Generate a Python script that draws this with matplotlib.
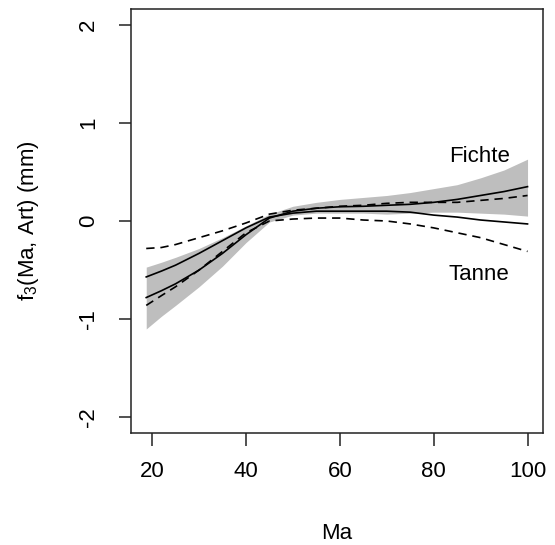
import numpy as np
import matplotlib
matplotlib.use("Agg")
from matplotlib import pyplot as plt

plt.rcParams["font.family"] = ["Liberation Sans", "DejaVu Sans"]
plt.rcParams["mathtext.fontset"] = "custom"
plt.rcParams["mathtext.rm"] = "Liberation Sans"
plt.rcParams["axes.unicode_minus"] = False

# Ma values (x grid)
ma = [18.75, 22, 25, 30, 35, 40, 45, 50, 55, 60, 65, 70, 75, 80, 85, 90, 95, 100]

# Fichte: fit + grey confidence band
fichte_fit = [-0.78, -0.71, -0.64, -0.50, -0.33, -0.14, 0.03, 0.10, 0.13, 0.145,
              0.15, 0.16, 0.17, 0.19, 0.22, 0.26, 0.30, 0.35]
fichte_upper = [-0.47, -0.42, -0.37, -0.28, -0.17, -0.05, 0.07, 0.15, 0.19, 0.22,
                0.24, 0.26, 0.29, 0.33, 0.37, 0.44, 0.52, 0.63]
fichte_lower = [-1.10, -0.97, -0.86, -0.67, -0.46, -0.22, -0.01, 0.06, 0.08, 0.08,
                0.08, 0.07, 0.08, 0.09, 0.09, 0.08, 0.07, 0.05]

# Tanne: fit + dashed confidence bounds
tanne_fit = [-0.57, -0.51, -0.45, -0.33, -0.20, -0.07, 0.04, 0.08, 0.10, 0.10,
             0.10, 0.10, 0.09, 0.06, 0.04, 0.01, -0.01, -0.03]
tanne_upper = [-0.28, -0.27, -0.24, -0.17, -0.10, -0.02, 0.07, 0.11, 0.13, 0.15,
               0.16, 0.18, 0.19, 0.19, 0.19, 0.21, 0.23, 0.26]
tanne_lower = [-0.86, -0.76, -0.67, -0.50, -0.31, -0.12, 0.00, 0.02, 0.03, 0.03,
               0.01, 0.00, -0.03, -0.07, -0.12, -0.17, -0.24, -0.31]

x_ticks = [20, 40, 60, 80, 100]
y_ticks = [-2, -1, 0, 1, 2]

fig = plt.figure(figsize=(5.55, 5.45), dpi=100)
ax = fig.add_axes([0.236, 0.2055, 0.742, 0.778])

ax.fill_between(ma, fichte_lower, fichte_upper, color="#bebebe", lw=0)
ax.plot(ma, fichte_fit, color="black", lw=1.2)
ax.plot(ma, tanne_fit, color="black", lw=1.2)
ax.plot(ma, tanne_upper, color="black", lw=1.2, dashes=(5, 3.5))
ax.plot(ma, tanne_lower, color="black", lw=1.2, dashes=(5, 3.5))

ax.text(89.7, 0.66, "Fichte", fontsize=16, ha="center", va="center")
ax.text(89.7, -0.55, "Tanne", fontsize=16, ha="center", va="center")

# R-style 4% padding around the data range
ax.set_xlim(18.75 - 0.04 * 81.25, 100 + 0.04 * 81.25)
ax.set_ylim(-2.16, 2.16)
ax.set_xticks(x_ticks)
ax.set_yticks(y_ticks)
ax.tick_params(axis="both", direction="out", length=9, width=1.1, labelsize=16,
               color="#222222")
ax.tick_params(axis="x", pad=11)
ax.tick_params(axis="y", pad=14, labelrotation=90)
for lab in ax.get_yticklabels():
    lab.set_va("center")

for s in ax.spines.values():
    s.set_linewidth(1.1)
    s.set_color("#222222")

ax.set_xlabel("Ma", fontsize=16)
ax.set_ylabel(r"f$\mathregular{_3}$(Ma, Art) (mm)", fontsize=16)
ax.xaxis.set_label_coords(0.5, -0.236)
ax.xaxis.label.set_va("center")
ax.yaxis.set_label_coords(-0.25, 0.5)
ax.yaxis.label.set_va("center")

fig.savefig("out.png", dpi=100)
